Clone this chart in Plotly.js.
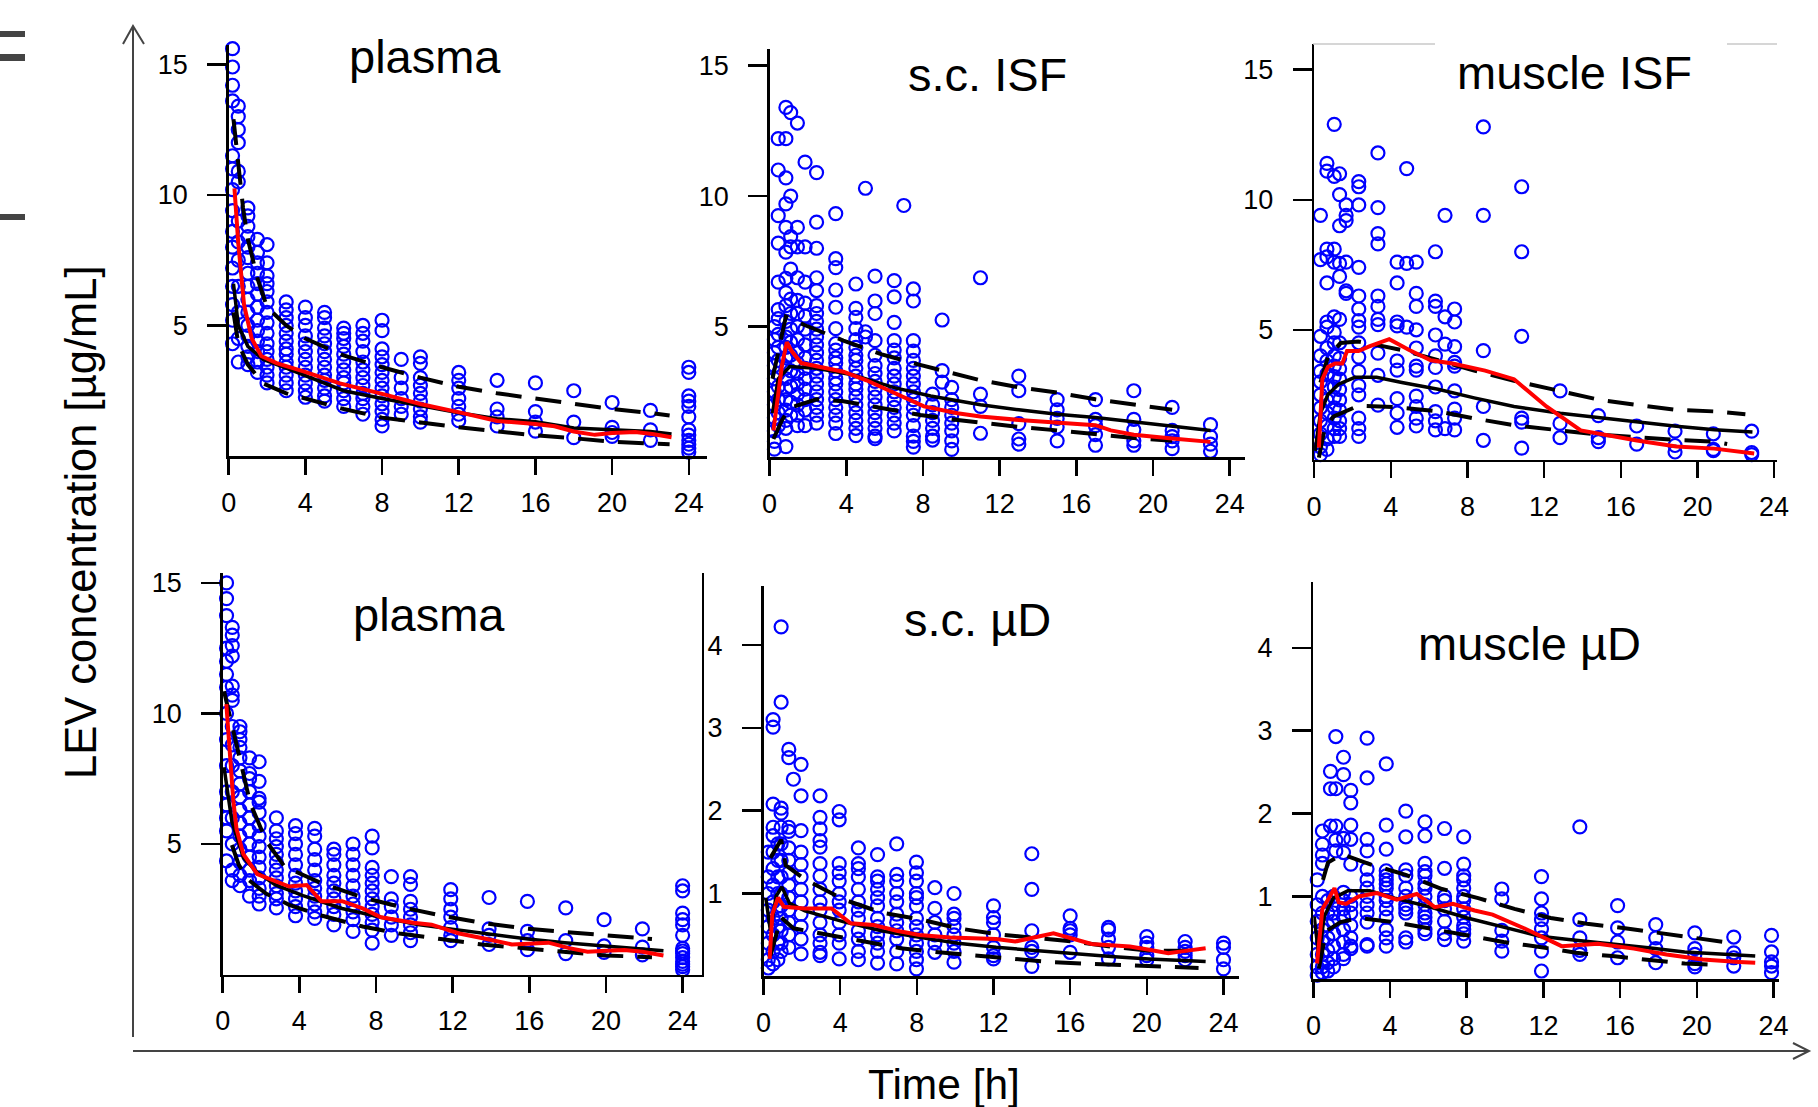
<!DOCTYPE html>
<html><head><meta charset="utf-8">
<script src="https://cdn.plot.ly/plotly-3.0.1.min.js"></script>
<style>html,body{margin:0;padding:0;background:#fff}#chart{width:1818px;height:1107px}</style>
</head><body><div id="chart"></div>
<script>
// ---------------- DATA ----------------
const panelTitles = ['plasma', 's.c. ISF', 'muscle ISF', 'plasma', 's.c. \u00b5D', 'muscle \u00b5D'];
const xTickVals = [0, 4, 8, 12, 16, 20, 24];
const yTickValsUpper = [5, 10, 15];
const yTickValsLower = [1, 2, 3, 4];

// Panel 1: plasma (top) observations [time, concentrations]
const plasmaTopObs = [
 [0.2,[15.6,14.9,14.2,13.6,11.5,11.0,10.2,9.4,8.6,8.0,7.2,6.5,5.8,5.2,4.3]],
 [0.5,[13.4,13.0,12.5,12.0,10.9,10.5,9.0,8.2,7.5,6.5,5.5,4.5,3.6]],
 [1.0,[9.5,9.2,8.8,8.4,8.0,7.6,7.0,6.5,6.0,5.5,5.0,4.6,4.2,3.8,3.5]],
 [1.5,[8.3,7.8,7.4,7.0,6.6,6.2,5.7,5.2,4.8,4.4,4.0,3.6,3.2]],
 [2.0,[8.1,7.4,6.9,6.6,6.3,5.9,5.5,5.1,4.7,4.3,4.0,3.7,3.4,3.1,2.8]],
 [3,[5.9,5.6,5.3,5.0,4.7,4.4,4.1,3.9,3.6,3.4,3.1,2.8,2.5]],
 [4,[5.7,5.3,5.0,4.6,4.3,4.0,3.7,3.4,3.1,2.8,2.5,2.25]],
 [5,[5.5,5.3,4.9,4.6,4.3,4.0,3.7,3.4,3.1,2.9,2.6,2.3,2.1]],
 [6,[4.9,4.7,4.5,4.2,3.9,3.6,3.3,3.0,2.8,2.5,2.2,1.9]],
 [7,[5.0,4.7,4.4,4.0,3.6,3.3,3.0,2.7,2.4,2.2,1.9,1.6]],
 [8,[5.2,4.8,4.1,3.8,3.5,3.2,2.9,2.6,2.3,2.0,1.7,1.4,1.15]],
 [9,[3.7,3.0,2.6,2.2,1.9,1.6]],
 [10,[3.8,3.55,3.0,2.7,2.4,2.1,1.8,1.5,1.3]],
 [12,[3.2,2.9,2.6,2.2,1.9,1.6,1.35]],
 [14,[2.9,1.8,1.5,1.15]],
 [16,[2.8,1.7,1.3,0.95]],
 [18,[2.5,1.3,0.7]],
 [20,[2.05,1.1,0.9,0.75]],
 [22,[1.75,1.0,0.6]],
 [24,[3.4,3.2,2.3,2.1,1.9,1.5,1.0,0.8,0.6,0.45,0.3,0.15]]
];
const plasmaTopMedT = [0.25,0.5,1,1.8,3,4.4,6,8,10,12,14,16,18,20,22,23.1];
const plasmaTopMedC = [6.6,5.0,4.2,3.7,3.37,2.98,2.5,2.2,1.93,1.66,1.43,1.31,1.07,1.0,0.94,0.84];
const plasmaTopHiT = [0.25,0.5,0.75,1,1.5,2,3,4,6,8,10,12,14,16,18,20,22,23];
const plasmaTopHiC = [12.9,11.0,9.5,8.3,6.8,5.7,5.0,4.5,3.85,3.4,3.0,2.65,2.4,2.2,2.0,1.8,1.65,1.55];
const plasmaTopLoT = [0.25,0.5,1,1.8,3,4.9,6,8,10,12,14,16,18,20,22,23];
const plasmaTopLoC = [5.5,4.3,3.5,2.78,2.4,2.0,1.8,1.47,1.27,1.1,0.94,0.79,0.68,0.55,0.48,0.45];
const plasmaTopObsMedT = [0.3,0.5,0.8,1.2,1.7,2.5,3.9,5.8,8,10,12.1,14,16,17,18,19.1,20,21.2,22.1,23.1];
const plasmaTopObsMedC = [10.25,8.15,5.8,4.5,3.83,3.56,3.24,2.78,2.38,1.99,1.66,1.34,1.23,1.14,0.94,0.81,0.88,0.92,0.84,0.72];

// Panel 2: s.c. ISF
const scIsfObs = [
 [0.25,[5.0,4.5,4.0,3.5,3.0,2.5,2.0,1.5,1.0,0.6,0.3]],
 [0.45,[12.2,11.0,9.25,8.2,6.7,5.65,5.3,4.7,4.2,3.7,3.2,2.7,2.2,1.7,1.2]],
 [0.85,[13.4,12.2,10.7,9.7,8.8,7.85,6.85,6.3,5.8,5.2,4.6,4.2,3.8,3.4,3.0,2.6,2.2,1.8,1.4,1.1,0.4]],
 [1.1,[13.2,10.0,8.45,8.05,7.2,6.05,5.5,4.9,4.4,3.9,3.3,2.7,2.1,1.6]],
 [1.45,[12.8,8.8,8.05,6.87,6.0,5.5,5.0,4.5,4.0,3.6,3.2,2.8,2.4,2.0,1.6,1.2]],
 [1.85,[11.3,8.05,6.7,5.9,5.4,4.9,4.3,3.8,3.4,3.0,2.6,2.2,1.8,1.2]],
 [2.45,[10.9,9.0,8.0,6.87,6.38,5.8,5.5,5.2,4.9,4.6,4.3,4.0,3.7,3.4,3.1,2.8,2.5,2.2,1.9,1.6,1.3]],
 [3.45,[9.33,7.6,7.26,6.4,5.74,4.92,4.35,4.1,3.8,3.6,3.3,3.0,2.8,2.5,2.2,1.9,1.6,1.3,0.9]],
 [4.5,[6.63,5.7,5.35,4.92,4.5,4.2,3.9,3.7,3.4,3.1,2.8,2.6,2.3,2.0,1.7,1.4,1.1,0.82]],
 [5.0,[10.3,4.8,4.6]],
 [5.5,[6.93,5.98,5.5,4.46,3.9,3.5,3.2,2.9,2.6,2.3,2.0,1.7,1.4,1.1,0.8,0.7]],
 [6.5,[6.76,6.14,5.16,4.46,4.1,3.8,3.4,3.1,2.8,2.5,2.2,1.9,1.6,1.3,1.0]],
 [7.0,[9.64]],
 [7.5,[6.44,5.98,4.46,4.06,3.7,3.4,3.1,2.8,2.5,2.2,1.9,1.6,1.2,0.8,0.6,0.38]],
 [8.5,[2.41,2.0,1.7,1.4,1.1,0.8,0.65]],
 [9.0,[5.25,3.31,2.87]],
 [9.5,[2.67,2.2,1.9,1.6,1.3,1.0,0.62,0.29]],
 [11,[6.87,2.41,1.94,0.91]],
 [13,[3.1,2.54,1.28,0.69,0.49]],
 [15,[2.2,1.81,1.48,1.15,0.62]],
 [17,[2.2,1.44,1.2,0.86,0.45]],
 [19,[2.54,1.44,1.04,0.62,0.45]],
 [21,[1.9,1.02,0.78,0.62,0.32]],
 [23,[1.24,0.78,0.49,0.22]]
];
const scIsfMedT = [0.15,0.45,1.05,2.45,4.45,6.45,8.4,11,13,15,17,19,21,23];
const scIsfMedC = [1.68,3.0,3.47,3.4,3.13,2.67,2.34,2.0,1.81,1.64,1.51,1.35,1.18,1.02];
const scIsfHiT = [0.15,0.55,0.85,1.85,3.85,5.85,7.85,11,13,15,17,19,21];
const scIsfHiC = [3.0,4.33,5.38,5.05,4.46,3.93,3.53,2.94,2.67,2.47,2.21,2.01,1.81];
const scIsfLoT = [0.2,0.65,1.05,2.45,3.85,5.85,7.85,9.8,13,15,17,19,21];
const scIsfLoC = [0.69,1.42,1.88,2.21,2.14,1.88,1.61,1.42,1.15,1.02,0.86,0.73,0.62];
const scIsfObsMedT = [0.2,0.35,0.65,0.9,1.15,1.65,2.45,3.85,5.05,6.45,8.05,9.8,11,13,15,17,17.8,19,21,23];
const scIsfObsMedC = [1.02,1.94,3.53,4.4,4.06,3.6,3.47,3.27,2.94,2.47,1.94,1.68,1.55,1.42,1.32,1.22,1.02,0.85,0.71,0.58];

// Panel 3: muscle ISF
const muscleIsfObs = [
 [0.33,[9.4,7.7,4.75,4.0,3.4,3.0,2.5,2.0,1.5,1.0,0.5,0.2]],
 [0.67,[11.4,11.1,8.1,7.8,6.8,5.3,5.1,4.3,3.8,3.3,2.8,2.3,1.8,1.3,0.8,0.4]],
 [1.05,[12.9,10.9,8.1,7.6,5.5,4.9,4.5,4.0,3.6,3.2,2.8,2.4,2.0,1.6,1.2,0.9]],
 [1.33,[11.0,10.2,9.0,7.55,7.05,5.4,4.5,3.9,3.5,3.1,2.7,2.3,1.9,1.5,1.2,0.9]],
 [1.67,[9.8,9.4,9.2,7.6,6.5,6.4]],
 [2.33,[10.7,10.5,9.8,7.4,6.3,5.8,5.35,5.1,4.5,3.95,3.4,2.85,2.5,1.6,1.2,0.9]],
 [3.33,[11.8,9.7,8.7,8.3,6.3,5.9,5.4,5.2,4.1,3.25,2.1]],
 [4.33,[7.6,6.8,5.3,5.15,3.8,3.45,2.35,1.8,1.25]],
 [4.83,[11.2,7.55,5.1]],
 [5.33,[7.6,6.4,5.9,5.0,4.3,3.6,3.45,2.45,2.05,1.6,1.3]],
 [6.33,[8.0,6.1,5.9,4.8,4.0,3.55,2.8,1.85,1.5,1.15]],
 [6.83,[9.4,5.5,4.45,1.2]],
 [7.33,[5.8,5.3,4.35,3.75,3.6,2.65,1.95,1.6,1.15]],
 [8.83,[12.8,9.4,4.2,2.05,0.75]],
 [10.83,[10.5,8.0,4.75,1.6,1.45,0.45]],
 [12.83,[2.65,1.4,0.85]],
 [14.83,[1.7,0.85,0.7]],
 [16.83,[1.3,0.6]],
 [18.83,[1.1,0.55,0.3]],
 [20.83,[1.0,0.4,0.35]],
 [22.83,[1.1,0.28,0.2]]
];
const muscleIsfMedT = [0.05,0.33,0.72,1.28,2.13,3.26,4.58,6.47,8.35,10.43,12.84,14.86,16.84,18.9,20.89,22.87];
const muscleIsfMedC = [0.34,1.79,2.51,2.91,3.17,3.17,2.97,2.71,2.38,2.05,1.79,1.62,1.46,1.29,1.16,1.07];
const muscleIsfHiT = [0.33,0.72,1.38,2.3,3.26,4.58,6.47,8.35,10.43,12.84,14.86,16.84,18.9,20.89,22.5];
const muscleIsfHiC = [2.97,3.96,4.49,4.55,4.42,4.22,3.83,3.43,3.04,2.64,2.31,2.11,1.92,1.86,1.75];
const muscleIsfLoT = [0.25,0.53,1.0,2.32,4.2,6.47,8.35,10.43,12.84,14.86,16.84,18.9,20.89,21.55];
const muscleIsfLoC = [0.08,1.13,1.66,2.08,2.03,1.86,1.59,1.33,1.13,0.97,0.87,0.76,0.7,0.61];
const muscleIsfObsMedT = [0.25,0.43,0.72,1.09,1.47,1.72,2.32,2.88,3.92,4.96,6.09,7.22,8.92,10.43,12.12,13.91,16.84,18.9,20.89,22.96];
const muscleIsfObsMedC = [0.47,3.1,3.57,3.7,3.7,4.18,4.18,4.36,4.64,4.22,3.83,3.7,3.43,3.1,2.05,1.13,0.74,0.51,0.43,0.24];

// Panel 4: plasma (bottom)
const plasmaBotObs = [
 [0.2,[15.0,14.4,13.75,12.5,12.0,11.5,11.0,10.0,9.0,8.0,7.0,6.5,6.0,5.5,4.35]],
 [0.5,[13.3,13.0,12.6,12.2,11.05,10.7,10.5,9.5,8.8,8.0,7.0,6.0,5.0,4.0,3.6]],
 [0.9,[9.5,9.3,9.0,8.7,8.3,7.8,7.3,6.8,6.3,5.8,5.3,4.8,4.3,3.8,3.4]],
 [1.4,[8.3,7.7,7.5,7.0,6.5,6.0,5.5,5.0,4.5,4.0,3.6,3.0]],
 [1.9,[8.15,7.4,6.75,6.6,6.2,5.7,5.3,4.9,4.5,4.1,3.7,3.3,3.0,2.7]],
 [2.8,[6.0,5.5,5.2,4.9,4.6,4.3,4.0,3.7,3.4,3.1,2.9,2.55]],
 [3.8,[5.7,5.4,5.0,4.6,4.2,3.8,3.5,3.2,2.9,2.6,2.25]],
 [4.8,[5.6,5.3,4.8,4.4,4.0,3.6,3.3,3.0,2.7,2.4,2.15]],
 [5.8,[4.8,4.6,4.2,3.8,3.5,3.2,2.9,2.6,2.3,1.9]],
 [6.8,[5.0,4.6,4.2,3.8,3.4,3.0,2.7,2.4,2.1,1.65]],
 [7.8,[5.3,4.85,4.1,3.8,3.5,3.2,2.9,2.6,2.3,2.0,1.7,1.2]],
 [8.8,[3.75,2.9,2.6,2.2,1.9,1.5]],
 [9.8,[3.75,3.45,2.8,2.5,2.2,1.9,1.6,1.3]],
 [11.9,[3.25,2.9,2.5,2.2,1.8,1.5,1.3]],
 [13.9,[2.95,1.75,1.5,1.15]],
 [15.9,[2.8,1.65,1.3,0.95]],
 [17.9,[2.55,1.3,0.8]],
 [19.9,[2.1,1.1,0.85]],
 [21.9,[1.75,1.05,0.75]],
 [24,[3.4,3.2,2.35,2.1,1.9,1.5,1.0,0.9,0.8,0.65,0.5,0.4,0.3,0.18]]
];
const plasmaBotMedT = [0.07,0.48,1.08,1.8,2.75,4.19,6.23,8.26,10.18,12.34,14.25,15.93,17.85,20,21.9,23];
const plasmaBotMedC = [7.94,5.86,4.47,3.92,3.43,3.02,2.53,2.19,1.91,1.7,1.5,1.36,1.22,1.08,0.98,0.91];
const plasmaBotHiT = [0.07,0.48,0.84,1.44,2.28,3.23,5.15,7.3,9.22,11.38,13.53,15.69,17.85,20,22.4];
const plasmaBotHiC = [10.85,9.6,8.35,6.55,5.1,4.13,3.5,2.95,2.6,2.26,1.98,1.77,1.63,1.5,1.36];
const plasmaBotLoT = [0.48,0.84,1.32,2.28,3.47,5.15,7.3,9.22,11.38,13.53,15.69,17.85,20,22.4];
const plasmaBotLoC = [4.96,4.2,3.64,3.09,2.67,2.26,1.84,1.57,1.36,1.15,1.01,0.87,0.73,0.66];
const plasmaBotObsMedT = [0.19,0.36,0.55,0.72,1.08,1.8,2.75,3.47,4.38,5.15,6.23,7.3,8.26,9.94,10.9,12.34,13.77,15.09,15.93,17.0,18.08,19.04,20,20.96,21.9,23];
const plasmaBotObsMedC = [10.36,8.35,6.69,5.58,4.61,3.85,3.57,3.37,3.43,2.81,2.81,2.53,2.19,1.98,1.91,1.57,1.36,1.15,1.18,1.22,1.01,0.87,0.91,0.94,0.87,0.73];

// Panel 5: s.c. microdialysate
const scMdObs = [
 [0.25,[1.5,1.2,1.0,0.8,0.6,0.4,0.2,0.1]],
 [0.5,[3.1,3.01,2.08,1.8,1.7,1.5,1.3,1.1,0.9,0.7,0.5,0.3,0.15]],
 [0.75,[1.6,1.4,1.2,1.0,0.8,0.6,0.4,0.2]],
 [0.92,[4.22,3.31,2.03,1.97,1.8,1.6,1.4,1.2,1.0,0.85,0.7,0.55,0.4,0.3]],
 [1.32,[2.74,2.64,1.8,1.75,1.55,1.4,1.25,1.1,0.95,0.8,0.65,0.5,0.35]],
 [1.56,[2.38]],
 [1.96,[2.56,2.18,1.76,1.5,1.35,1.2,1.05,0.9,0.75,0.6,0.45,0.27]],
 [2.95,[2.18,1.92,1.78,1.64,1.56,1.36,1.21,1.05,0.9,0.8,0.65,0.5,0.4,0.29,0.25]],
 [3.95,[1.99,1.89,1.36,1.25,1.15,1.0,0.9,0.8,0.65,0.5,0.4,0.21]],
 [4.95,[1.55,1.36,1.3,1.2,1.05,0.9,0.8,0.7,0.55,0.45,0.3,0.2]],
 [5.95,[1.47,1.2,1.15,1.05,0.95,0.85,0.7,0.6,0.5,0.4,0.3,0.16]],
 [6.95,[1.6,1.23,1.15,1.0,0.9,0.75,0.65,0.55,0.45,0.3,0.15]],
 [7.98,[1.38,1.25,1.15,1.0,0.95,0.85,0.7,0.6,0.5,0.4,0.3,0.2,0.09]],
 [8.94,[1.07,0.82,0.65,0.5,0.4,0.29]],
 [9.94,[1.0,0.75,0.7,0.6,0.5,0.4,0.3,0.17]],
 [12.0,[0.85,0.71,0.65,0.5,0.35,0.25,0.21]],
 [14.0,[1.48,1.05,0.55,0.35,0.3,0.12]],
 [16.0,[0.73,0.58,0.55,0.5,0.29]],
 [18.0,[0.59,0.56,0.45,0.35,0.21]],
 [20.0,[0.48,0.4,0.35,0.25,0.2]],
 [22.0,[0.42,0.35,0.3,0.25,0.2]],
 [24.0,[0.4,0.35,0.2,0.09]]
];
const scMdMedT = [0.12,0.36,0.66,0.96,1.36,2.16,4.15,6.15,8.14,10.14,12.14,14.13,16.13,18.12,20.12,23.07];
const scMdMedC = [0.95,0.55,0.97,1.08,0.88,0.79,0.66,0.55,0.47,0.4,0.35,0.31,0.28,0.24,0.21,0.18];
const scMdHiT = [0.36,0.92,1.16,2.16,4.15,6.15,8.14,10.14,12.14,14.13,16.13,18.12,20.12,22.12];
const scMdHiC = [1.43,1.65,1.34,1.17,0.93,0.77,0.69,0.58,0.51,0.47,0.42,0.36,0.31,0.31];
const scMdLoT = [0.36,0.92,1.56,3.15,5.15,7.15,9.14,11.14,13.13,15.13,17.12,19.12,21.12,22.7];
const scMdLoC = [0.25,0.71,0.58,0.51,0.42,0.34,0.29,0.25,0.21,0.17,0.15,0.13,0.12,0.1];
const scMdObsMedT = [0.32,0.46,0.76,1.06,2.16,3.55,4.55,5.75,6.95,8.14,9.74,12.14,13.13,15.13,17.12,19.12,20.12,21.12,22.12,23.07];
const scMdObsMedC = [0.21,0.75,0.95,0.84,0.82,0.82,0.64,0.62,0.55,0.5,0.47,0.45,0.42,0.52,0.39,0.36,0.32,0.28,0.31,0.34];

// Panel 6: muscle microdialysate
const muscleMdObs = [
 [0.2,[1.2,0.9,0.7,0.5,0.3,0.15,0.05]],
 [0.47,[1.79,1.63,1.5,1.4,1.0,0.8,0.6,0.45,0.3,0.15,0.08]],
 [0.75,[0.95,0.8,0.65,0.5,0.35,0.2,0.1]],
 [0.89,[2.51,2.3,1.85]],
 [1.05,[1.0,0.9,0.8,0.7,0.55,0.4,0.25,0.15]],
 [1.17,[2.93,2.3,1.85,1.68,1.55]],
 [1.57,[2.68,2.47,1.7,1.53,1.05,0.95,0.85,0.75,0.6,0.45,0.3,0.25]],
 [1.95,[2.28,2.13,1.86,1.69,1.39,1.0,0.9,0.8,0.65,0.5,0.4,0.37]],
 [2.8,[2.91,2.43,1.69,1.55,1.33,1.2,1.1,1.0,0.9,0.8,0.69,0.42,0.4]],
 [3.8,[2.6,1.86,1.57,1.31,1.25,1.2,1.15,1.1,1.0,0.95,0.85,0.75,0.6,0.5,0.4]],
 [4.82,[2.03,1.72,1.32,1.25,1.1,1.0,0.9,0.85,0.8,0.5,0.45]],
 [5.82,[1.9,1.73,1.4,1.3,1.25,1.15,1.1,1.0,0.9,0.8,0.75,0.7,0.6,0.55]],
 [6.84,[1.82,1.34,1.0,0.95,0.85,0.7,0.55,0.48]],
 [7.84,[1.72,1.39,1.25,1.2,1.1,1.0,0.95,0.85,0.75,0.65,0.6,0.55,0.46]],
 [9.83,[1.09,0.97,0.59,0.46,0.34]],
 [11.9,[1.24,0.97,0.8,0.72,0.61,0.5,0.34,0.1]],
 [13.9,[1.84,0.72,0.5,0.35,0.3]],
 [15.87,[0.89,0.62,0.45,0.26]],
 [17.86,[0.66,0.5,0.37,0.2]],
 [19.9,[0.56,0.37,0.3,0.19,0.15]],
 [21.93,[0.51,0.32,0.26,0.16]],
 [23.9,[0.53,0.33,0.21,0.16,0.08]]
];
const muscleMdMedT = [0.04,0.28,0.57,1.04,1.8,2.93,4.25,6.14,8.03,9.92,11.81,13.32,15.59,17.48,19.37,21.26,23.05];
const muscleMdMedC = [0.76,0.28,0.76,0.98,1.07,1.07,0.98,0.87,0.74,0.63,0.52,0.48,0.43,0.38,0.33,0.3,0.28];
const muscleMdHiT = [0.5,0.76,1.51,2.93,4.82,6.71,8.6,10.49,12.38,14.27,16.16,18.05,19.94,21.45];
const muscleMdHiC = [1.2,1.41,1.51,1.39,1.26,1.09,0.98,0.85,0.74,0.67,0.62,0.56,0.5,0.45];
const muscleMdLoT = [0.28,0.66,1.42,2.36,4.25,6.14,8.03,9.92,11.81,13.7,15.59,17.48,19.37,21.26];
const muscleMdLoC = [0.13,0.58,0.69,0.74,0.69,0.61,0.52,0.45,0.39,0.32,0.28,0.24,0.19,0.17];
const muscleMdObsMedT = [0.19,0.47,0.76,1.1,1.32,1.7,2.36,3.31,4.35,5.39,6.33,7.28,8.41,9.35,11.05,12.95,14.84,16.72,18.42,20.31,22.2,23.05];
const muscleMdObsMedC = [0.19,0.85,0.96,1.1,0.93,0.91,1.0,1.04,0.96,1.03,0.87,0.91,0.83,0.78,0.61,0.4,0.43,0.37,0.3,0.24,0.21,0.2];

// ---------------- LAYOUT / DRAWING ----------------
const W = 1818, H = 1107;
const X = px => px / W;
const Y = py => 1 - py / H;

const panelData = [
 {obs: plasmaTopObs, med:[plasmaTopMedT,plasmaTopMedC], hi:[plasmaTopHiT,plasmaTopHiC], lo:[plasmaTopLoT,plasmaTopLoC], red:[plasmaTopObsMedT,plasmaTopObsMedC]},
 {obs: scIsfObs, med:[scIsfMedT,scIsfMedC], hi:[scIsfHiT,scIsfHiC], lo:[scIsfLoT,scIsfLoC], red:[scIsfObsMedT,scIsfObsMedC]},
 {obs: muscleIsfObs, med:[muscleIsfMedT,muscleIsfMedC], hi:[muscleIsfHiT,muscleIsfHiC], lo:[muscleIsfLoT,muscleIsfLoC], red:[muscleIsfObsMedT,muscleIsfObsMedC]},
 {obs: plasmaBotObs, med:[plasmaBotMedT,plasmaBotMedC], hi:[plasmaBotHiT,plasmaBotHiC], lo:[plasmaBotLoT,plasmaBotLoC], red:[plasmaBotObsMedT,plasmaBotObsMedC]},
 {obs: scMdObs, med:[scMdMedT,scMdMedC], hi:[scMdHiT,scMdHiC], lo:[scMdLoT,scMdLoC], red:[scMdObsMedT,scMdObsMedC]},
 {obs: muscleMdObs, med:[muscleMdMedT,muscleMdMedC], hi:[muscleMdHiT,muscleMdHiC], lo:[muscleMdLoT,muscleMdLoC], red:[muscleMdObsMedT,muscleMdObsMedC]}
];

// pixel boxes of each panel's axes (left, right, top, bottom) and axis ranges
const boxes = [
 {l:228.7, r:707.0, t:44.8, b:456.0, xmax:24.95, ymax:15.75, yt:yTickValsUpper, title:{x:425, y:57}},
 {l:769.6, r:1245.0, t:49.2, b:457.0, xmax:24.80, ymax:15.63, yt:yTickValsUpper, title:{x:988, y:74}},
 {l:1314.1, r:1777.0, t:44.0, b:459.8, xmax:24.15, ymax:15.99, yt:yTickValsUpper, title:{x:1574, y:72}},
 {l:222.7, r:701.6, t:572.5, b:974.5, xmax:24.99, ymax:15.40, yt:yTickValsUpper, title:{x:429, y:614}, mirror:true},
 {l:763.5, r:1239.0, t:586.3, b:976.3, xmax:24.81, ymax:4.71, yt:yTickValsLower, title:{x:977, y:619}},
 {l:1313.4, r:1778.8, t:581.6, b:979.3, xmax:24.28, ymax:4.80, yt:yTickValsLower, title:{x:1529, y:643}}
];

const FONT = 'Liberation Sans, Arial, Helvetica, sans-serif';
const traces = [];
const layout = {
  width: W, height: H,
  margin: {l:0, r:0, t:0, b:0, pad:0},
  paper_bgcolor: '#fff', plot_bgcolor: 'rgba(0,0,0,0)',
  showlegend: false, hovermode: false,
  font: {family: FONT, color: '#000'},
  annotations: [], shapes: []
};

const DASH = '26px,14px';
boxes.forEach((bx, i) => {
  const n = i + 1;
  const xa = 'x' + (n === 1 ? '' : n), ya = 'y' + (n === 1 ? '' : n);
  const d = panelData[i];
  const ox = [], oy = [];
  d.obs.forEach(([t, arr]) => arr.forEach(v => { ox.push(t); oy.push(v); }));
  traces.push({x: ox, y: oy, xaxis: xa, yaxis: ya, type: 'scatter', mode: 'markers', cliponaxis: false,
    marker: {symbol: 'circle-open', size: 13, color: '#0000ff', line: {width: 2.2, color: '#0000ff'}}});
  traces.push({x: d.lo[0], y: d.lo[1], xaxis: xa, yaxis: ya, type: 'scatter', mode: 'lines', cliponaxis: false,
    line: {color: '#000', width: 4, dash: DASH}});
  traces.push({x: d.hi[0], y: d.hi[1], xaxis: xa, yaxis: ya, type: 'scatter', mode: 'lines', cliponaxis: false,
    line: {color: '#000', width: 4, dash: DASH}});
  traces.push({x: d.med[0], y: d.med[1], xaxis: xa, yaxis: ya, type: 'scatter', mode: 'lines', cliponaxis: false,
    line: {color: '#000', width: 3.5}});
  traces.push({x: d.red[0], y: d.red[1], xaxis: xa, yaxis: ya, type: 'scatter', mode: 'lines', cliponaxis: false,
    line: {color: '#ff0000', width: 4}});

  const xKey = 'xaxis' + (n === 1 ? '' : n), yKey = 'yaxis' + (n === 1 ? '' : n);
  layout[xKey] = {
    domain: [X(bx.l), X(bx.r)], anchor: ya, range: [0, bx.xmax], fixedrange: true,
    showgrid: false, zeroline: false, showline: true, linecolor: '#000', linewidth: 2.5,
    ticks: 'outside', ticklen: 16, tickwidth: 2.5, tickcolor: '#000',
    tickmode: 'array', tickvals: xTickVals, ticktext: xTickVals.map(String),
    tickfont: {size: 27, family: FONT, color: '#000'}, ticklabelstandoff: 5
  };
  layout[yKey] = {
    domain: [Y(bx.b), Y(bx.t)], anchor: xa, range: [0, bx.ymax], fixedrange: true,
    showgrid: false, zeroline: false, showline: true, linecolor: '#000', linewidth: 2.5,
    mirror: bx.mirror ? true : false,
    ticks: 'outside', ticklen: 19, tickwidth: 2.5, tickcolor: '#000',
    tickmode: 'array', tickvals: bx.yt, ticktext: bx.yt.map(String),
    tickfont: {size: 27, family: FONT, color: '#000'}, ticklabelstandoff: 14
  };
  layout.annotations.push({xref: 'paper', yref: 'paper', x: X(bx.title.x), y: Y(bx.title.y),
    xanchor: 'center', yanchor: 'middle', showarrow: false, text: panelTitles[i],
    font: {size: 47, family: FONT, color: '#000'}});
});

// shared axis titles
layout.annotations.push({xref: 'paper', yref: 'paper', x: X(81), y: Y(522), xanchor: 'center', yanchor: 'middle',
  showarrow: false, textangle: -90, text: 'LEV concentration [\u00b5g/mL]', font: {size: 43.5, family: FONT, color: '#000'}});
layout.annotations.push({xref: 'paper', yref: 'paper', x: X(944.5), y: Y(1084), xanchor: 'center', yanchor: 'middle',
  showarrow: false, text: 'Time [h]', font: {size: 42.5, family: FONT, color: '#000'}});

// big arrows framing the figure
const arrowCol = '#444';
layout.shapes.push({type: 'line', xref: 'paper', yref: 'paper', x0: X(133), x1: X(133), y0: Y(1037), y1: Y(26), line: {color: arrowCol, width: 2}});
layout.shapes.push({type: 'path', xref: 'paper', yref: 'paper',
  path: `M ${X(123)} ${Y(44)} L ${X(133)} ${Y(26)} L ${X(144)} ${Y(44)}`, line: {color: arrowCol, width: 2}});
layout.shapes.push({type: 'line', xref: 'paper', yref: 'paper', x0: X(133), x1: X(1809), y0: Y(1051), y1: Y(1051), line: {color: arrowCol, width: 2}});
layout.shapes.push({type: 'path', xref: 'paper', yref: 'paper',
  path: `M ${X(1793)} ${Y(1043)} L ${X(1809)} ${Y(1051)} L ${X(1793)} ${Y(1059)}`, line: {color: arrowCol, width: 2}});
// cropped remnants at top-left edge
[[31, 37], [54, 61], [214, 220]].forEach(([a, b]) => layout.shapes.push({type: 'rect', xref: 'paper', yref: 'paper',
  x0: X(0), x1: X(25), y0: Y(b), y1: Y(a), fillcolor: '#444', line: {width: 0}}));
// faint top border remnants on muscle ISF panel
[[1313, 1435], [1727, 1777]].forEach(([a, b]) => layout.shapes.push({type: 'line', xref: 'paper', yref: 'paper',
  x0: X(a), x1: X(b), y0: Y(44), y1: Y(44), line: {color: '#c8c8c8', width: 1.5}}));

Plotly.newPlot('chart', traces, layout, {staticPlot: true, displayModeBar: false});
</script></body></html>
